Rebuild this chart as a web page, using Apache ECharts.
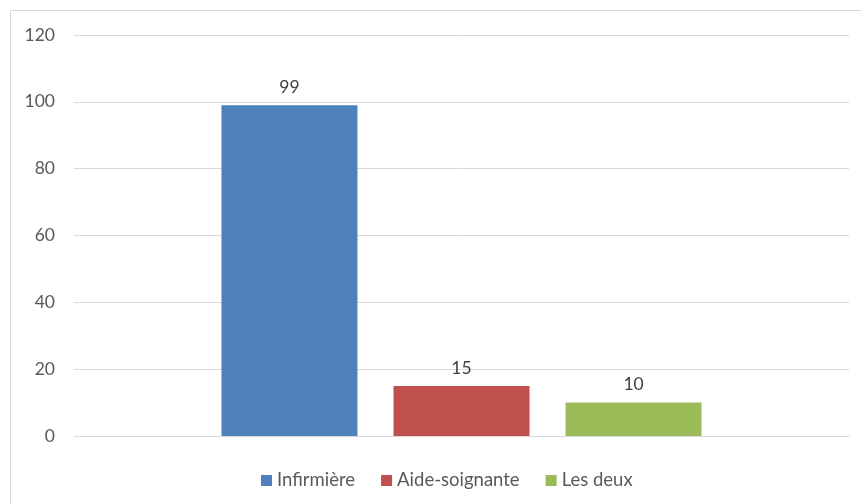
<!DOCTYPE html>
<html>
<head>
<meta charset="utf-8">
<script src="https://cdn.jsdelivr.net/npm/echarts@6/dist/echarts.min.js"></script>
<style>
html,body{margin:0;padding:0;background:#fff;}
#c{width:861px;height:504px;}
</style>
</head>
<body>
<div id="c"></div>
<script>
const seriesNames = ['Infirmière', 'Aide-soignante', 'Les deux'];
const seriesValues = [99, 15, 10];
const seriesColors = ['#4F81BD', '#C0504D', '#9BBB59'];
const yTicks = [0, 20, 40, 60, 80, 100, 120];

const FONT = 'Lato';
const chart = echarts.init(document.getElementById('c'), null, {renderer: 'canvas'});
chart.setOption({
  animation: false,
  backgroundColor: '#fff',
  textStyle: {fontFamily: FONT},
  graphic: [{
    type: 'rect', silent: true, z: 0,
    shape: {x: 10.5, y: 10.5, width: 1000, height: 1000},
    style: {fill: 'none', stroke: '#d9d9d9', lineWidth: 1}
  }],
  grid: {left: 74, right: 12, top: 35, bottom: 68, containLabel: false},
  legend: {
    left: 256, top: 466,
    itemWidth: 11, itemHeight: 11, itemGap: 26,
    icon: 'rect',
    textStyle: {color: '#595959', fontSize: 18.5, fontFamily: FONT},
    data: seriesNames
  },
  xAxis: {
    type: 'category', data: [''],
    axisLine: {show: true, lineStyle: {color: '#d9d9d9', width: 1}},
    axisTick: {show: false}, axisLabel: {show: false}, splitLine: {show: false}
  },
  yAxis: {
    type: 'value', min: yTicks[0], max: yTicks[yTicks.length - 1], interval: 20,
    axisLine: {show: false}, axisTick: {show: false},
    axisLabel: {color: '#595959', fontSize: 17.5, margin: 19, fontFamily: FONT},
    splitLine: {lineStyle: {color: '#d9d9d9', width: 1}}
  },
  series: seriesNames.map((n, i) => ({
    name: n, type: 'bar', data: [seriesValues[i]],
    barWidth: 136, barGap: '26.5%',
    itemStyle: {color: seriesColors[i]},
    label: {show: true, position: 'top', distance: 9, color: '#404040', fontSize: 17.5, fontFamily: FONT}
  }))
});
</script>
</body>
</html>
